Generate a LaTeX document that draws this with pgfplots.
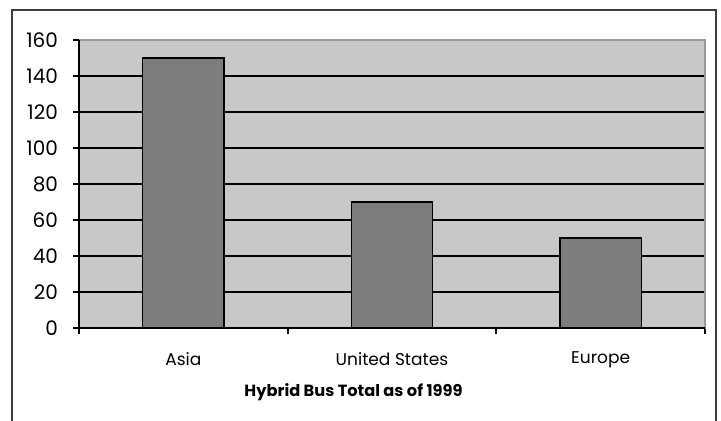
\documentclass[border=0pt]{standalone}
\usepackage{pgfplots}
\pgfplotsset{compat=1.18}
\usepackage{fontspec}
\setmainfont{Poppins}
\definecolor{bggray}{RGB}{200,200,200}
\definecolor{bargray}{RGB}{125,125,125}
\definecolor{framegray}{RGB}{60,60,60}
\begin{document}
\begin{tikzpicture}
\useasboundingbox (0,0) rectangle (360.5pt,210pt);
\draw[line width=1pt, framegray] (6pt,-5pt) -- (6pt,205pt) -- (358pt,205pt) -- (358pt,-5pt);
\begin{axis}[
  at={(39.5pt,46pt)}, anchor=south west,
  scale only axis, width=313pt, height=144pt,
  xmin=-0.5, xmax=2.5, ymin=0, ymax=160,
  ytick={0,20,...,160},
  xtick={-0.5,0.5,1.5,2.5},
  xticklabels={},
  extra x ticks={0,1,2},
  extra x tick labels={Asia,United States,Europe},
  extra x tick style={major tick length=0pt, tick style={draw=none}},
  xtick align=outside, ytick align=outside,
  major tick style={black, line width=0.9pt},
  major tick length=3pt,
  tick pos=left,
  ymajorgrids, grid style={black, line width=0.9pt},
  axis line style={draw=gray!80, line width=0.5pt},
  axis background/.style={fill=bggray},
  /pgf/number format/assume math mode=true,
  xticklabel style={font=\fontsize{8.5}{10}\selectfont, yshift=-8.5pt},
  yticklabel style={font=\fontsize{10}{12}\selectfont, xshift=-4pt},
  ybar, bar width=0.39,
  clip=false,
]
\addplot[fill=bargray, draw=black, line width=0.8pt] coordinates {(0,150) (1,70) (2,50)};
\draw[gray!80, line width=0.6pt] (rel axis cs:0,1) -- (rel axis cs:1,1) -- (rel axis cs:1,0);
\draw[black, line width=1pt] (rel axis cs:0,1) -- (rel axis cs:0,0) -- (rel axis cs:1,0);
\node[font=\bfseries\fontsize{8.1}{10}\selectfont] at (rel axis cs:0.4385,0) [yshift=-32pt] {Hybrid Bus Total as of 1999};
\end{axis}
\end{tikzpicture}
\end{document}
